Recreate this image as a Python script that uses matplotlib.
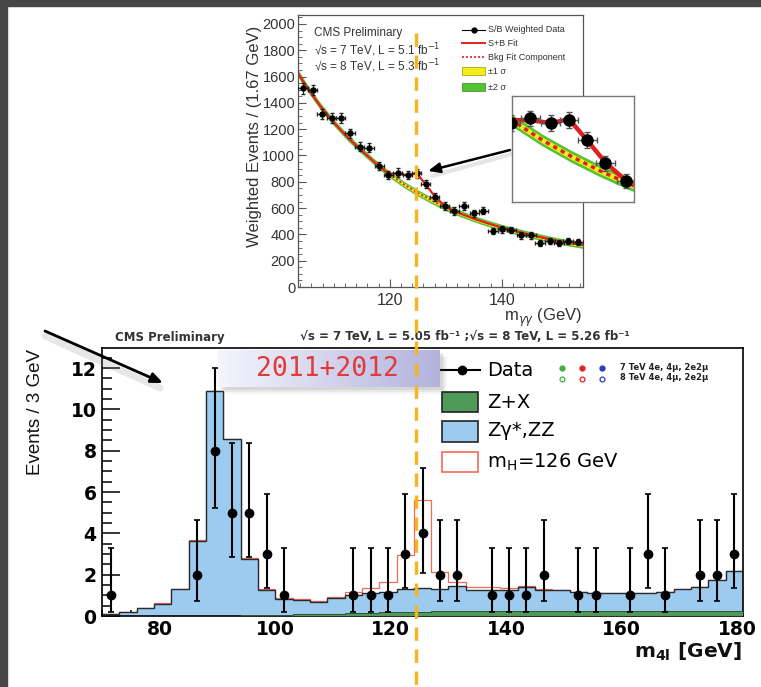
import numpy as np
import matplotlib
matplotlib.use("Agg")
import matplotlib.pyplot as plt
from matplotlib.patches import Rectangle
from matplotlib.ticker import MultipleLocator
from matplotlib import font_manager

plt.rcParams['font.family'] = ['Liberation Sans', 'DejaVu Sans']
plt.rcParams['mathtext.fontset'] = 'dejavusans'

W, H = 761, 687

# ---------------- top panel: S/B weighted diphoton mass ----------------
gg_mass = [104.5, 106.2, 107.8, 109.6, 111.2, 112.9, 114.6, 116.3, 118.1, 119.7,
           121.4, 123.2, 124.8, 126.4, 128.0, 129.8, 131.5, 133.2, 135.1, 136.7,
           138.4, 140.1, 141.7, 143.5, 145.2, 146.8, 148.6, 150.2, 151.8, 153.6]
gg_events = [1511, 1498, 1316, 1283, 1283, 1169, 1067, 1060, 920, 852,
             869, 852, 864, 781, 687, 616, 578, 616, 560, 580,
             426, 439, 433, 393, 393, 337, 350, 332, 352, 344]
gg_err = [40, 40, 38, 37, 37, 36, 35, 35, 33, 32,
          32, 32, 32, 31, 30, 29, 28, 29, 28, 28,
          26, 26, 26, 25, 25, 24, 24, 24, 24, 24]
gg_binhalf = 0.83

bkg_mass = [103.6, 105, 107.5, 110, 112.5, 115, 117.5, 120, 122.5, 125, 127.5, 130,
            132.5, 135, 137.5, 140, 142.5, 145, 147.5, 150, 152.5, 154.5]
bkg_fit = [1625, 1530, 1380, 1250, 1135, 1035, 940, 855, 780, 715, 657, 605,
           560, 520, 484, 452, 424, 398, 373, 350, 332, 318]
band_1sigma = [14, 14, 13, 13, 12, 12, 12, 12, 12, 12, 12, 12,
               12, 12, 12, 12, 12, 12, 12, 12, 12, 12]
band_2sigma = [28, 27, 26, 25, 25, 24, 24, 24, 24, 24, 24, 24,
               24, 24, 24, 24, 24, 24, 24, 24, 24, 25]
sb_mass = [103.6, 105, 107.5, 110, 112.5, 115, 117.5, 119.7, 121.4, 123.2, 124.8,
           126.4, 128.0, 129.6, 131, 132.5, 135, 137.5, 140, 142.5, 145, 147.5,
           150, 152.5, 154.5]
sb_fit = [1625, 1530, 1380, 1250, 1135, 1035, 940, 862, 862, 850, 866,
          780, 690, 625, 588, 560, 520, 484, 452, 424, 398, 373, 350, 332, 318]

# ---------------- bottom panel: four-lepton mass ----------------
m4l_edges = np.arange(70, 182, 3)
zx_bkg = [0, 0, 0, 0, 0, 0, 0, 0.02, 0.03, 0.04, 0.06, 0.08, 0.10, 0.12, 0.14,
          0.16, 0.18, 0.20, 0.21, 0.22, 0.22, 0.23, 0.23, 0.24, 0.24, 0.24,
          0.25, 0.25, 0.25, 0.25, 0.25, 0.25, 0.25, 0.25, 0.25, 0.25, 0.25]
zz_bkg = [0.10, 0.18, 0.37, 0.58, 1.29, 3.64, 10.90, 8.53, 2.71, 1.22, 0.74,
          0.70, 0.60, 0.76, 0.86, 0.94, 0.99, 1.12, 1.16, 1.11, 1.23, 1.02,
          1.02, 1.01, 1.18, 1.01, 1.00, 0.92, 0.85, 0.85, 0.85, 0.85, 0.92,
          1.04, 1.17, 1.49, 1.94]
higgs_sig = [0, 0, 0, 0.07, 0.03, 0.03, 0, 0, 0.08, 0.03, 0.05, 0.05, 0.05,
             0.05, 0.14, 0.24, 0.49, 1.63, 4.23, 0.81, 0.21, 0.17, 0.17, 0.12,
             0.05, 0.05, 0, 0, 0, 0, 0, 0, 0, 0, 0, 0, 0]
data_mass = [71.5, 86.5, 89.5, 92.5, 95.5, 98.5, 101.5, 113.5, 116.5, 119.5,
             122.5, 125.5, 128.5, 131.5, 137.5, 140.5, 143.5, 146.5, 152.5,
             155.5, 161.5, 164.5, 167.5, 173.5, 176.5, 179.5]
data_n = [1, 2, 8, 5, 5, 3, 1, 1, 1, 1, 3, 4, 2, 2, 1, 1, 1, 2, 1, 1, 1, 3, 1,
          2, 2, 3]
data_err_lo = [0.83, 1.29, 2.77, 2.16, 2.16, 1.63, 0.83, 0.83, 0.83, 0.83, 1.63,
               1.91, 1.29, 1.29, 0.83, 0.83, 0.83, 1.29, 0.83, 0.83, 0.83, 1.63,
               0.83, 1.29, 1.29, 1.63]
data_err_hi = [2.30, 2.64, 3.98, 3.38, 3.38, 2.92, 2.30, 2.30, 2.30, 2.30, 2.92,
               3.16, 2.64, 2.64, 2.30, 2.30, 2.30, 2.64, 2.30, 2.30, 2.30, 2.92,
               2.30, 2.64, 2.64, 2.92]

# colours
C_BLUE = '#9dcbf0'
C_GREEN = '#4f9a5a'
C_SIG = '#f26a5a'
C_RED = '#e02020'
C_YEL = '#f2ee1c'
C_BAND2 = '#55c234'


def rect(x0, y0, x1, y1):
    return [x0 / W, 1 - y1 / H, (x1 - x0) / W, (y1 - y0) / H]


fig = plt.figure(figsize=(W / 100, H / 100), dpi=100)
fig.patch.set_facecolor('white')

# ---------------- top axes ----------------
bm = np.array(bkg_fit, float)
b1 = np.array(band_1sigma, float)
b2 = np.array(band_2sigma, float)


def draw_diphoton(ax, ms, lw_fit, elw, cap, big=False):
    ax.fill_between(bkg_mass, bm - b2, bm + b2, color=C_BAND2, lw=0)
    ax.fill_between(bkg_mass, bm - b1, bm + b1, color=C_YEL, lw=0)
    ax.plot(bkg_mass, bkg_fit, color=C_RED, lw=lw_fit * 0.8,
            ls=(0, (1.2, 1.2)))
    ax.plot(sb_mass, sb_fit, color=C_RED, lw=lw_fit)
    ax.errorbar(gg_mass, gg_events, yerr=gg_err, xerr=gg_binhalf, fmt='o',
                color='black', ms=ms, elinewidth=elw, capsize=cap,
                ecolor='#222222' if not big else '#555555', zorder=5)


ax1 = fig.add_axes(rect(298, 15, 583, 287))
draw_diphoton(ax1, 3.6, 1.6, 0.8, 1.2)
ax1.set_xlim(103.6, 154.5)
ax1.set_ylim(0, 2068)
ax1.xaxis.set_major_locator(MultipleLocator(20))
ax1.xaxis.set_minor_locator(MultipleLocator(2))
ax1.yaxis.set_major_locator(MultipleLocator(200))
ax1.yaxis.set_minor_locator(MultipleLocator(50))
ax1.tick_params(which='both', direction='in', colors='#555555',
                labelcolor='#333333')
ax1.tick_params(axis='y', which='major', length=6, labelsize=10.5, pad=2)
ax1.tick_params(axis='y', which='minor', length=3)
ax1.tick_params(axis='x', which='major', length=6, labelsize=11.5, pad=4)
ax1.tick_params(axis='x', which='minor', length=3)
for sp in ax1.spines.values():
    sp.set_color('#555555')
    sp.set_linewidth(0.9)

# inset zoom
axi = fig.add_axes(rect(512, 96, 634, 202), zorder=6)
draw_diphoton(axi, 8, 3.2, 1.0, 2.5, big=True)
axi.set_xlim(119.8, 130.5)
axi.set_ylim(530, 960)
axi.set_xticks([])
axi.set_yticks([])
for sp in axi.spines.values():
    sp.set_color('#777777')
    sp.set_linewidth(1.0)

# ---------------- bottom axes ----------------
zx = np.array(zx_bkg)
zz = np.array(zz_bkg)
sig = np.array(higgs_sig)
blue = zx + zz
total = blue + sig

ax2 = fig.add_axes(rect(102, 348, 743, 616))
ax2.stairs(total, m4l_edges, color=C_SIG, lw=0.9, baseline=None, zorder=1)
ax2.stairs(blue, m4l_edges, fill=True, facecolor=C_BLUE, edgecolor='none',
           zorder=2)
ax2.stairs(blue, m4l_edges, color='#2b2b2b', lw=1.0, baseline=None, zorder=2.1)
ax2.stairs(zx, m4l_edges, fill=True, facecolor=C_GREEN, edgecolor='none',
           zorder=3)
ax2.stairs(zx, m4l_edges, color='#2a4a2a', lw=0.6, baseline=None, zorder=3.1)
ax2.errorbar(data_mass, data_n, yerr=[data_err_lo, data_err_hi], fmt='o',
             color='black', ms=6, elinewidth=1.5, capsize=2.2, capthick=1.2,
             zorder=6)
ax2.set_xlim(70, 181)
ax2.set_ylim(0, 12.97)
ax2.xaxis.set_major_locator(MultipleLocator(20))
ax2.xaxis.set_minor_locator(MultipleLocator(5))
ax2.yaxis.set_major_locator(MultipleLocator(2))
ax2.yaxis.set_minor_locator(MultipleLocator(0.5))
ax2.tick_params(which='both', direction='in', width=1.1)
ax2.tick_params(axis='y', which='major', length=13, pad=4)
ax2.tick_params(axis='y', which='minor', length=7)
ax2.tick_params(axis='x', which='major', length=9, pad=3)
ax2.tick_params(axis='x', which='minor', length=4)
for lab in ax2.get_xticklabels() + ax2.get_yticklabels():
    lab.set_fontfamily('DejaVu Sans')
    lab.set_fontweight('bold')
    lab.set_fontsize(13.5)
for sp in ax2.spines.values():
    sp.set_linewidth(1.2)

# ---------------- overlay in image pixel coordinates ----------------
ov = fig.add_axes([0, 0, 1, 1], zorder=5)
ov.set_xlim(0, W)
ov.set_ylim(H, 0)
ov.axis('off')

# dark frame of the slide
ov.add_patch(Rectangle((0, 0), W, 6, color='#474747', zorder=20, clip_on=False))
ov.add_patch(Rectangle((0, 0), 7, H, color='#474747', zorder=20, clip_on=False))

# top panel texts
ov.text(314, 33, 'CMS Preliminary', size=8.5, color='#333333', va='center')
ov.text(314, 50, '√s = 7 TeV, L = 5.1 fb$^{-1}$', size=8.5, color='#333333',
        va='center')
ov.text(314, 66, '√s = 8 TeV, L = 5.3 fb$^{-1}$', size=8.5, color='#333333',
        va='center')
ov.text(254, 136, 'Weighted Events / (1.67 GeV)', rotation=90, size=12,
        color='#333333', ha='center', va='center')
ov.text(543, 318, 'm$_{\\gamma\\gamma}$ (GeV)', size=12, color='#333333',
        ha='center', va='center')

# top legend
ov.plot([462, 485], [30, 30], color='black', lw=0.8)
ov.plot([473.5], [30], 'o', color='black', ms=3.5)
ov.plot([462, 485], [43, 43], color=C_RED, lw=1.4)
ov.plot([462, 485], [57, 57], color=C_RED, lw=1.2, ls=(0, (1.2, 1.2)))
ov.add_patch(Rectangle((462, 67), 23, 8, facecolor=C_YEL, edgecolor='#999900',
                       lw=0.5))
ov.add_patch(Rectangle((462, 83), 23, 8, facecolor=C_BAND2, edgecolor='#338822',
                       lw=0.5))
for yy, s in [(30, 'S/B Weighted Data'), (43, 'S+B Fit'),
              (57, 'Bkg Fit Component'), (71, '±1 σ'), (87, '±2 σ')]:
    ov.text(488, yy, s, size=6.5, color='#333333', va='center')

# arrow to the inset
ov.plot([512, 432], [154, 176], color='#999999', lw=3, alpha=0.25,
        solid_capstyle='round')
ov.annotate('', xy=(428, 171), xytext=(510, 150),
            arrowprops=dict(arrowstyle='-|>,head_length=0.7,head_width=0.3',
                            color='black', lw=1.8, shrinkA=0, shrinkB=0))

# bottom panel texts
ov.text(115, 337, 'CMS Preliminary', size=8.5, weight='bold',
        family='DejaVu Sans', color='#333333', va='center')
ov.text(300, 337, '√s = 7 TeV, L = 5.05 fb⁻¹ ;√s = 8 TeV, L = 5.26 fb⁻¹',
        size=8.5, weight='bold', family='DejaVu Sans', color='#333333',
        va='center')

names = {f.name for f in font_manager.fontManager.ttflist}
if 'Liberation Sans Narrow' in names:
    ylab_family, ylab_size = ['Liberation Sans Narrow', 'DejaVu Sans'], 16
else:
    ylab_family, ylab_size = ['Liberation Sans', 'DejaVu Sans'], 13.5
ov.text(36, 412, 'Events / 3 GeV', rotation=90, size=ylab_size,
        family=ylab_family, ha='center', va='center', color='#111111')
ov.text(742, 652, r'$\mathbf{m_{4l}}$ [GeV]', size=14.5, weight='bold',
        family='DejaVu Sans', ha='right', va='center', color='#111111')

# bottom legend
ov.plot([440, 480], [370, 370], color='black', lw=1.5)
ov.plot([462], [370], 'o', color='black', ms=6)
ov.text(487, 371, 'Data', size=14, family='DejaVu Sans', va='center')
for xx, c in [(562, '#3cb43c'), (582, '#e82020'), (602, '#2840c0')]:
    ov.plot([xx], [368], 'o', color=c, ms=3.5)
    ov.plot([xx], [379], 'o', mfc='white', mec=c, mew=0.9, ms=3.5)
ov.text(620, 367, '7 TeV 4e, 4μ, 2e2μ', size=6, weight='bold',
        family='DejaVu Sans', va='center', color='#222222')
ov.text(620, 378, '8 TeV 4e, 4μ, 2e2μ', size=6, weight='bold',
        family='DejaVu Sans', va='center', color='#222222')
ov.add_patch(Rectangle((442, 392), 36, 20, facecolor=C_GREEN,
                       edgecolor='#222222', lw=1.2))
ov.add_patch(Rectangle((442, 421), 36, 21, facecolor=C_BLUE,
                       edgecolor='#222222', lw=1.2))
ov.add_patch(Rectangle((442, 452), 36, 20, facecolor='white',
                       edgecolor=C_SIG, lw=1.2))
ov.text(487, 402, 'Z+X', size=14, family='DejaVu Sans', va='center')
ov.text(487, 431, 'Zγ*,ZZ', size=14, family='DejaVu Sans', va='center')
ov.text(487, 462, r'm$_{\mathregular{H}}$=126 GeV', size=14,
        family='DejaVu Sans', va='center')

# "2011+2012" label box with gradient and soft shadow
for dx, a in [(7, 0.06), (5, 0.08), (3, 0.12)]:
    ov.add_patch(Rectangle((218 + dx, 350 + dx), 222, 37, facecolor='#555555',
                           edgecolor='none', alpha=a, zorder=2))
t = np.linspace(0, 1, 200)
c0 = np.array([0.96, 0.96, 0.99])
c1 = np.array([0.70, 0.70, 0.87])
grad = np.ones((20, 200, 3)) * (c0 + (c1 - c0) * t[:, None])[None, :, :]
ov.imshow(grad, extent=[218, 440, 387, 350], aspect='auto', zorder=3,
          interpolation='bilinear')
ov.set_xlim(0, W)
ov.set_ylim(H, 0)
ov.text(327, 369, '2011+2012', size=19, family='DejaVu Sans Mono',
        color='#e23a3a', ha='center', va='center', zorder=4)

# arrow at the bottom-left
ov.plot([45, 160], [336, 388], color='#888888', lw=5, alpha=0.2,
        solid_capstyle='round')
ov.annotate('', xy=(163, 383), xytext=(45, 331),
            arrowprops=dict(arrowstyle='-|>,head_length=0.7,head_width=0.3',
                            color='black', lw=2, shrinkA=0, shrinkB=0))

# dashed vertical marker at ~125 GeV
ov.plot([416, 416], [33, 687], color='#f5b51c', lw=2.4,
        ls=(0, (4, 2.6)), zorder=8)

fig.savefig('out.png', dpi=100, facecolor='white')
